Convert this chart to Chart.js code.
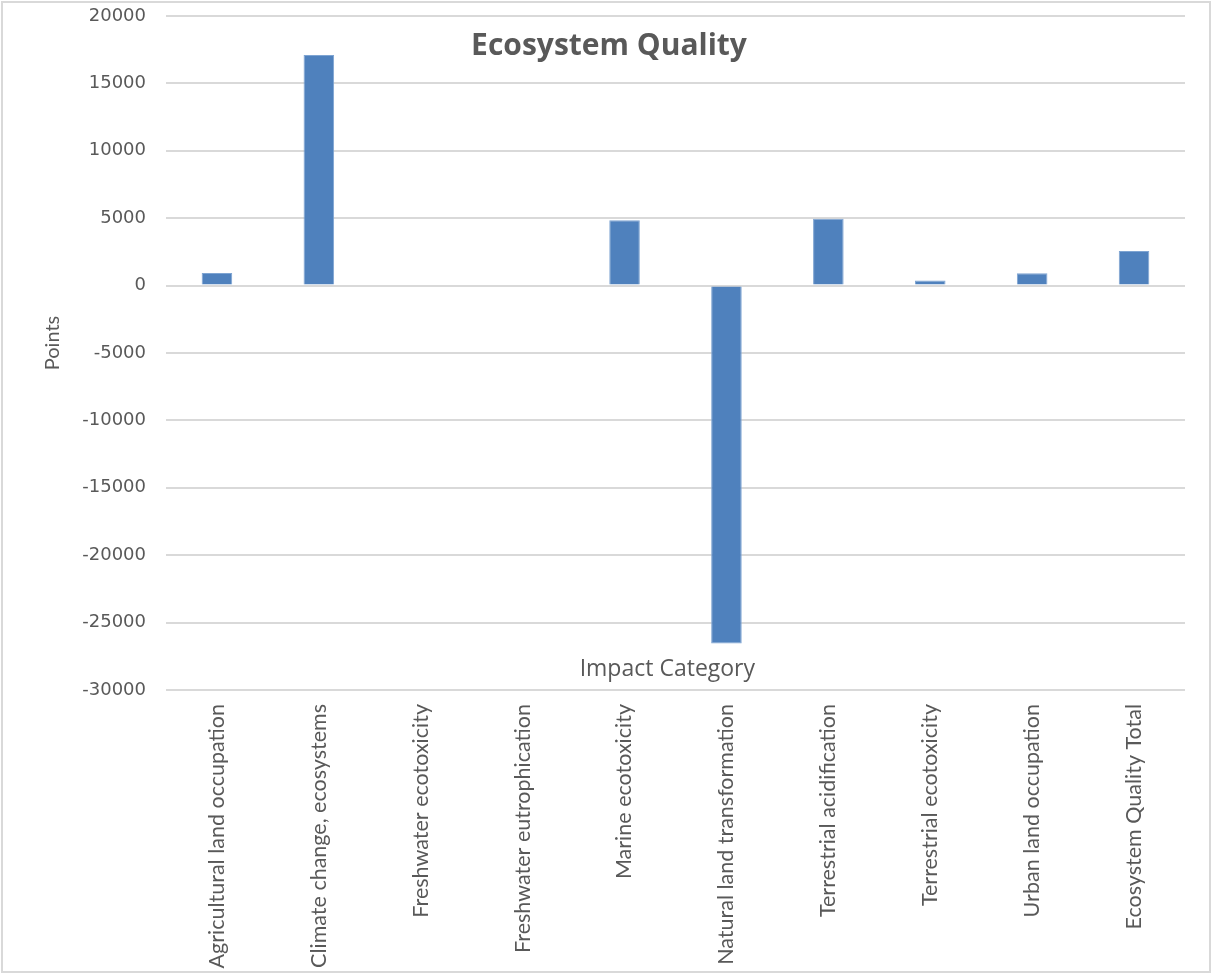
<!DOCTYPE html>
<html>
<head>
<meta charset="utf-8">
<script src="https://cdn.jsdelivr.net/npm/chart.js@4.4.1/dist/chart.umd.min.js"></script>
<style>
  html, body { margin: 0; padding: 0; background: #fff; }
  #wrap { width: 1212px; height: 974px; }
</style>
</head>
<body>
<div id="wrap"><canvas id="EcosystemQualityChart" width="1212" height="974"></canvas></div>
<script>
// impact categories and their ecosystem quality points
var categories = [
    'Agricultural land occupation',
    'Climate change, ecosystems',
    'Freshwater ecotoxicity',
    'Freshwater eutrophication',
    'Marine ecotoxicity',
    'Natural land transformation',
    'Terrestrial acidification',
    'Terrestrial ecotoxicity',
    'Urban land occupation',
    'Ecosystem Quality Total'
];
var points = [940, 17100, 0, 0, 4850, -26550, 4950, 380, 910, 2570];

var yMin = -30000;
var yMax = 20000;
var yStep = 5000;

var chartTitle = 'Ecosystem Quality';
var xTitle = 'Impact Category';
var yTitle = 'Points';

var textGrey = '#595959';

// titles and frame are painted by hand so they can sit inside the plot like the sheet chart
var frameAndTitles = {
    id: 'frameAndTitles',
    beforeDraw: function (chart) {
        var ctx = chart.ctx;
        ctx.save();
        ctx.fillStyle = '#ffffff';
        ctx.fillRect(0, 0, chart.width, chart.height);
        ctx.strokeStyle = '#d9d9d9';
        ctx.lineWidth = 2;
        ctx.strokeRect(2, 2, chart.width - 4, chart.height - 4);
        ctx.restore();
    },
    afterDraw: function (chart) {
        var ctx = chart.ctx;
        var area = chart.chartArea;
        ctx.save();
        ctx.fillStyle = textGrey;
        ctx.textAlign = 'center';
        ctx.textBaseline = 'middle';

        ctx.font = 'bold 30px "Open Sans"';
        ctx.fillText(chartTitle, 609, 46);

        ctx.font = '23px "Open Sans"';
        ctx.fillText(xTitle, area.left + area.width * 0.492, area.bottom - 21);

        ctx.translate(53, 343);
        ctx.rotate(-Math.PI / 2);
        ctx.font = '20px Lato';
        ctx.fillText(yTitle, 0, 0);
        ctx.restore();
    }
};

var ctx = document.getElementById('EcosystemQualityChart').getContext('2d');
window.EcosystemChart = new Chart(ctx, {
    type: 'bar',
    data: {
        labels: categories,
        datasets: [{
            label: yTitle,
            data: points,
            backgroundColor: '#4f81bd',
            borderColor: '#7ea4d2',
            borderWidth: 1,
            barPercentage: 0.3,
            categoryPercentage: 1.0
        }]
    },
    options: {
        responsive: false,
        animation: false,
        layout: {
            padding: { left: 0, right: 27, top: 16, bottom: 0 }
        },
        plugins: {
            legend: { display: false },
            title: { display: false },
            tooltip: { enabled: false }
        },
        scales: {
            x: {
                grid: { display: false },
                border: { display: false },
                ticks: {
                    color: textGrey,
                    font: { family: 'Lato', size: 21.5 },
                    minRotation: 90,
                    maxRotation: 90,
                    padding: 6,
                    autoSkip: false
                },
                afterFit: function (scale) {
                    scale.height = 284;
                    scale.paddingLeft = 0;
                    scale.paddingRight = 0;
                }
            },
            y: {
                min: yMin,
                max: yMax,
                ticks: {
                    stepSize: yStep,
                    color: textGrey,
                    font: { family: 'DejaVu Sans', size: 18 },
                    padding: 20,
                    callback: function (value) {
                        return String(value);
                    }
                },
                grid: {
                    color: '#d9d9d9',
                    lineWidth: 2,
                    drawTicks: false
                },
                border: { display: false },
                afterFit: function (scale) {
                    scale.width = 166;
                    scale.paddingTop = 0;
                    scale.paddingBottom = 0;
                }
            }
        }
    },
    plugins: [frameAndTitles]
});
</script>
</body>
</html>
